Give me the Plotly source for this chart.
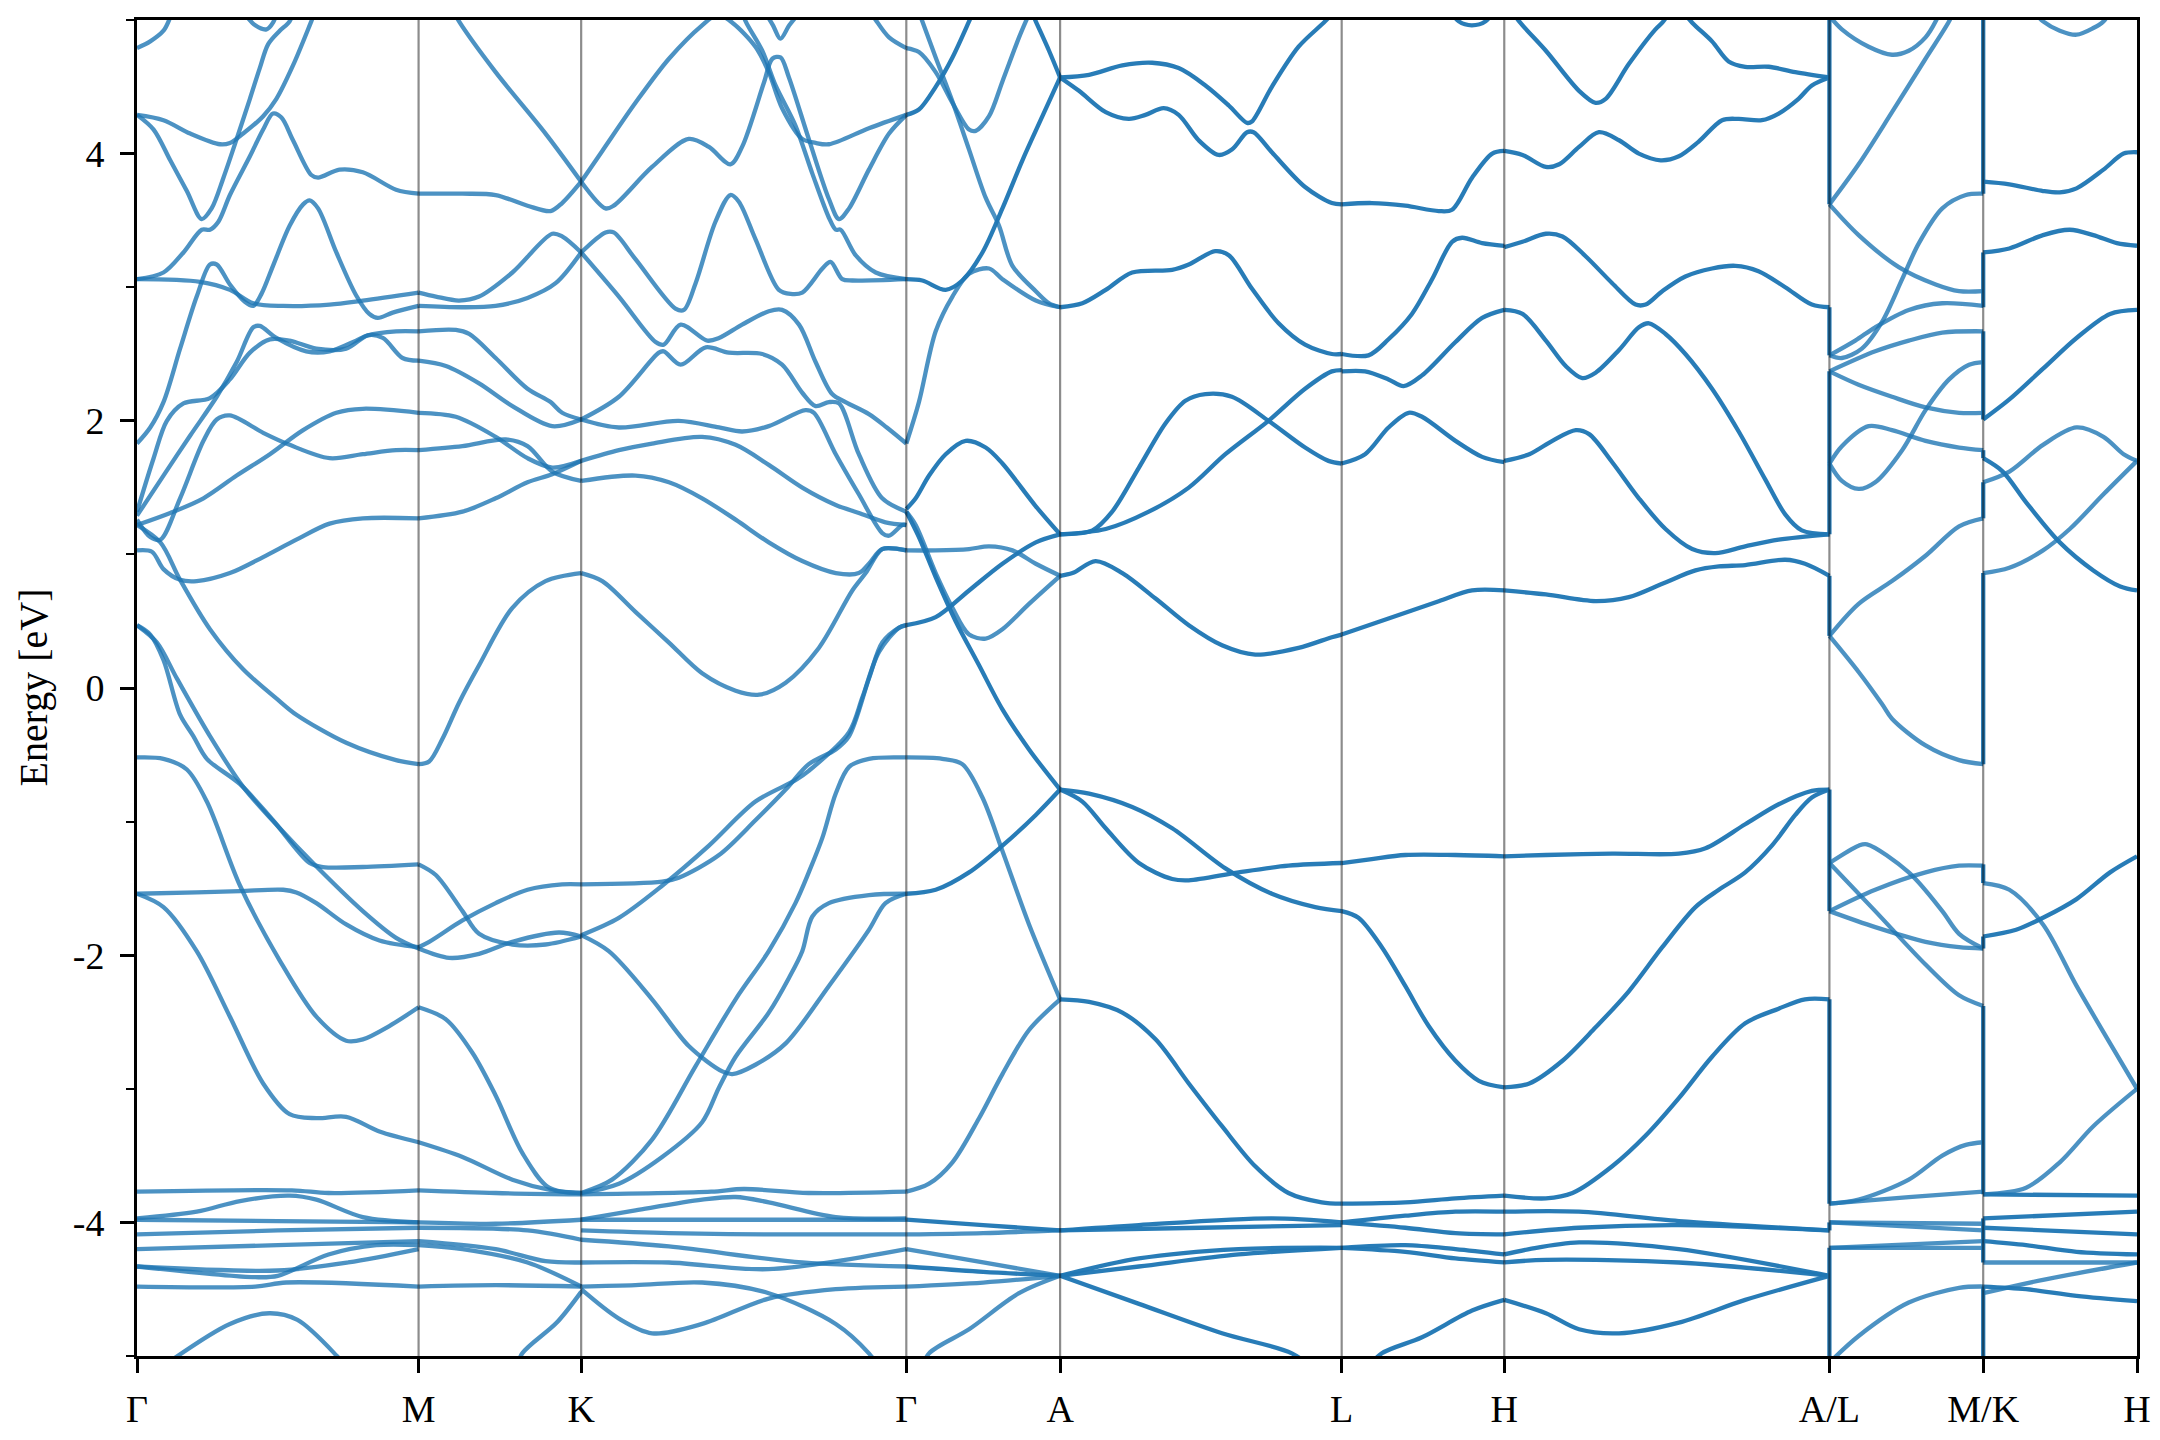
import plotly.graph_objects as go

tick_labels = ["Γ", "M", "K", "Γ", "A", "L", "H", "A/L", "M/K", "H"]
tick_pos = [0.0, 0.866, 1.366, 2.366, 2.839, 3.705, 4.205, 5.205, 5.678, 6.151]

# ---- band curves per path segment: [fraction along segment, energy (eV)] ----
GM_single = [
 [[0,4.79],[.047,4.84],[.094,4.92],[.112,4.99],[.13,5.1]],
 [[0,4.29],[.094,4.25],[.189,4.15],[.295,4.07],[.33,4.08],[.377,4.15],[.448,4.28],[.495,4.41],[.554,4.66],[.619,4.99],[.64,5.1]],
 [[0,4.29],[.059,4.18],[.118,3.95],[.177,3.72],[.23,3.51],[.265,3.59],[.307,3.82],[.354,4.11],[.401,4.41],[.436,4.64],[.466,4.82],[.507,4.92],[.542,4.99],[.56,5.1]],
 [[0,3.06],[.094,3.11],[.165,3.26],[.23,3.43],[.259,3.43],[.289,3.49],[.33,3.69],[.401,3.98],[.448,4.18],[.483,4.30],[.513,4.27],[.554,4.10],[.619,3.84],[.643,3.82],[.719,3.88],[.802,3.86],[.92,3.73],[1,3.70]],
 [[0,3.06],[.224,3.04],[.33,2.98],[.413,2.88],[.519,2.86],[.684,2.87],[.802,2.90],[1,2.96]],
 [[0,1.83],[.047,1.95],[.094,2.14],[.153,2.54],[.212,2.93],[.259,3.17],[.283,3.17],[.33,3.02],[.383,2.89],[.413,2.86],[.442,2.95],[.483,3.16],[.542,3.46],[.59,3.62],[.613,3.65],[.643,3.59],[.708,3.26],[.778,2.94],[.825,2.80],[.855,2.77],[.908,2.81],[1,2.86]],
 [[0,1.32],[.059,1.72],[.106,2.00],[.165,2.13],[.259,2.17],[.33,2.31],[.401,2.51],[.472,2.61],[.542,2.60],[.637,2.54],[.743,2.54],[.82,2.64],[.873,2.62],[.943,2.47],[1,2.45]],
 [[0,1.29],[.094,1.59],[.189,1.89],[.283,2.18],[.354,2.44],[.413,2.70],[.436,2.71],[.495,2.62],[.601,2.52],[.684,2.52],[.778,2.60],[.82,2.64],[.92,2.67],[1,2.67]],
 [[0,1.26],[.047,1.13],[.083,1.11],[.153,1.42],[.236,1.85],[.283,2.01],[.33,2.04],[.448,1.91],[.542,1.82],[.684,1.72],[.802,1.75],[.92,1.78],[1,1.78]],
 [[0,1.22],[.118,1.31],[.236,1.42],[.354,1.59],[.472,1.75],[.59,1.93],[.708,2.06],[.802,2.09],[1,2.06]],
 [[0,1.03],[.053,1.02],[.094,0.89],[.153,0.81],[.212,0.80],[.33,0.86],[.448,0.98],[.566,1.11],[.684,1.23],[.802,1.27],[1,1.27]],
 [[0,1.22],[.083,1.09],[.153,0.81],[.259,0.44],[.377,0.14],[.507,-0.10],[.566,-0.20],[.743,-0.41],[.92,-0.54],[1,-0.57]],
 [[0,0.47],[.047,0.40],[.094,0.21],[.153,-0.20],[.20,-0.36],[.248,-0.53],[.366,-0.72],[.483,-0.99],[.613,-1.31],[.66,-1.34],[.802,-1.34],[1,-1.32]],
 [[0,0.47],[.071,0.34],[.142,0.07],[.259,-0.36],[.377,-0.74],[.507,-1.05],[.625,-1.31],[.802,-1.67],[.92,-1.87],[1,-1.95]],
 [[0,-0.52],[.094,-0.53],[.177,-0.61],[.248,-0.85],[.366,-1.48],[.507,-2.04],[.637,-2.46],[.743,-2.64],[.802,-2.63],[.896,-2.53],[1,-2.39]],
 [[0,-1.54],[.212,-1.53],[.366,-1.52],[.519,-1.51],[.566,-1.53],[.637,-1.61],[.743,-1.77],[.861,-1.89],[1,-1.94]],
 [[0,-1.54],[.094,-1.64],[.212,-1.97],[.33,-2.46],[.448,-2.96],[.542,-3.19],[.637,-3.22],[.743,-3.21],[.861,-3.32],[1,-3.40]],
 [[0,-3.77],[.55,-3.76],[.68,-3.78],[1,-3.76]],
 [[0,-3.97],[.212,-3.92],[.366,-3.84],[.542,-3.80],[.637,-3.83],[.802,-3.96],[1,-4.0]],
 [[0,-3.98],[.5,-3.99],[1,-4.0]],
 [[0,-4.09],[.5,-4.06],[1,-4.04]],
 [[0,-4.20],[.5,-4.17],[1,-4.14]],
 [[0,-4.33],[.42,-4.41],[.5,-4.40],[.68,-4.24],[.85,-4.17],[1,-4.17]],
 [[0,-4.33],[.5,-4.36],[.75,-4.30],[1,-4.20]],
 [[0,-4.48],[.42,-4.48],[.53,-4.45],[1,-4.48]],
 [[.11,-5.05],[.33,-4.76],[.47,-4.68],[.57,-4.73],[.71,-5.0],[.75,-5.1]],
 [[.37,5.08],[.42,4.96],[.46,4.93],[.483,4.98],[.5,5.08]],
]

MK_single = [
 [[.2,5.1],[.249,4.99],[.474,4.61],[.781,4.15],[1,3.79]],
 [[0,3.70],[.27,3.70],[.474,3.69],[.67,3.61],[.812,3.57],[.883,3.63],[1,3.79]],
 [[0,2.96],[.106,2.93],[.249,2.90],[.372,2.93],[.577,3.11],[.822,3.40],[.883,3.38],[1,3.26]],
 [[0,2.86],[.27,2.85],[.474,2.86],[.67,2.92],[.843,3.03],[1,3.26]],
 [[0,2.67],[.229,2.68],[.311,2.65],[.474,2.47],[.67,2.24],[.812,2.14],[.883,2.06],[1,2.01]],
 [[0,2.45],[.168,2.41],[.372,2.28],[.577,2.11],[.822,1.96],[1,2.01]],
 [[0,2.06],[.229,2.03],[.474,1.88],[.67,1.72],[.822,1.65],[1,1.70]],
 [[0,1.78],[.27,1.81],[.536,1.86],[.67,1.81],[.822,1.62],[1,1.55]],
 [[0,1.27],[.27,1.32],[.474,1.42],[.67,1.54],[.822,1.60],[1,1.70]],
 [[0,-0.57],[.065,-0.55],[.147,-0.38],[.249,-0.11],[.372,0.17],[.577,0.60],[.781,0.80],[1,0.86]],
 [[0,-1.32],[.106,-1.40],[.27,-1.67],[.372,-1.84],[.577,-1.92],[.781,-1.92],[1,-1.86]],
 [[0,-1.94],[.065,-1.90],[.27,-1.74],[.474,-1.61],[.67,-1.51],[.883,-1.47],[1,-1.47]],
 [[0,-1.95],[.188,-2.02],[.372,-1.99],[.577,-1.90],[.863,-1.83],[1,-1.86]],
 [[0,-2.39],[.168,-2.48],[.331,-2.73],[.474,-3.05],[.638,-3.48],[.802,-3.74],[1,-3.78]],
 [[0,-3.40],[.27,-3.51],[.577,-3.68],[.822,-3.76],[1,-3.78]],
 [[0,-3.76],[.474,-3.78],[1,-3.79]],
 [[0,-4.0],[.474,-4.01],[1,-3.98]],
 [[0,-4.04],[.67,-4.06],[1,-4.13]],
 [[0,-4.14],[.474,-4.20],[.781,-4.29],[1,-4.30]],
 [[0,-4.17],[.27,-4.20],[.67,-4.30],[1,-4.48]],
 [[0,-4.48],[.474,-4.47],[1,-4.48]],
 [[.6,-5.1],[.638,-4.98],[.85,-4.75],[1,-4.52]],
]

KG_single = [
 [[0,3.79],[.065,4.02],[.167,4.38],[.27,4.71],[.372,4.96],[.42,5.04],[.465,4.98],[.536,4.80],[.577,4.61],[.618,4.34],[.68,4.11],[.721,4.08],[.762,4.07],[.885,4.19],[1,4.29]],
 [[.49,5.1],[.506,4.99],[.557,4.77],[.598,4.51],[.659,4.21],[.711,3.85],[.762,3.52],[.783,3.43],[.798,3.43],[.844,3.24],[.906,3.11],[1,3.06]],
 [[0,3.79],[.075,3.59],[.10,3.61],[.218,3.90],[.331,4.11],[.393,4.05],[.459,3.92],[.495,4.05],[.562,4.53],[.588,4.71],[.613,4.72],[.639,4.57],[.70,4.11],[.762,3.66],[.793,3.51],[.824,3.59],[.885,3.88],[.947,4.15],[1,4.29]],
 [[0,3.26],[.075,3.41],[.10,3.41],[.167,3.21],[.29,2.84],[.316,2.83],[.352,3.03],[.413,3.49],[.459,3.69],[.485,3.64],[.536,3.36],[.608,2.98],[.644,2.95],[.68,2.96],[.742,3.14],[.767,3.19],[.803,3.06],[.834,3.05],[1,3.06]],
 [[0,3.26],[.116,2.93],[.229,2.59],[.254,2.57],[.306,2.72],[.388,2.60],[.424,2.62],[.495,2.72],[.577,2.82],[.618,2.83],[.67,2.72],[.721,2.44],[.772,2.20],[.813,2.14],[.885,2.05],[.94,1.95],[1,1.83]],
 [[0,2.01],[.116,2.18],[.239,2.51],[.254,2.52],[.306,2.42],[.383,2.55],[.454,2.51],[.557,2.50],[.618,2.42],[.68,2.21],[.721,2.11],[.762,2.14],[.793,2.13],[.854,1.75],[.926,1.42],[1,1.32]],
 [[0,2.01],[.116,1.95],[.30,2.00],[.424,1.95],[.495,1.92],[.577,1.96],[.69,2.08],[.716,2.06],[.783,1.75],[.854,1.45],[.926,1.16],[.947,1.14],[.988,1.22],[1,1.22]],
 [[0,1.70],[.116,1.78],[.218,1.83],[.372,1.88],[.475,1.82],[.577,1.67],[.68,1.50],[.783,1.37],[.854,1.31],[.936,1.24],[1,1.22]],
 [[0,1.55],[.167,1.59],[.27,1.54],[.372,1.42],[.475,1.26],[.577,1.09],[.68,0.95],[.783,0.86],[.854,0.86],[.885,0.93],[.926,1.04],[1,1.03]],
 [[0,0.86],[.065,0.80],[.167,0.57],[.27,0.34],[.372,0.11],[.475,-0.02],[.547,-0.05],[.629,0.04],[.731,0.30],[.834,0.73],[.875,0.86],[.926,1.04],[.977,1.04],[1,1.03]],
 [[0,-1.47],[.249,-1.45],[.30,-1.42],[.424,-1.25],[.536,-0.99],[.629,-0.76],[.70,-0.57],[.783,-0.46],[.824,-0.36],[.885,0.07],[.926,0.34],[.977,0.45],[1,0.47]],
 [[0,-1.85],[.116,-1.72],[.249,-1.48],[.393,-1.18],[.536,-0.85],[.659,-0.69],[.70,-0.62],[.824,-0.33],[.865,-0.07],[.916,0.27],[.977,0.45],[1,0.47]],
 [[0,-1.85],[.085,-1.97],[.218,-2.33],[.331,-2.68],[.434,-2.87],[.465,-2.89],[.536,-2.82],[.629,-2.66],[.762,-2.23],[.885,-1.81],[.936,-1.61],[1,-1.54]],
 [[0,-3.78],[.095,-3.68],[.218,-3.38],[.352,-2.83],[.475,-2.33],[.577,-1.97],[.659,-1.61],[.70,-1.38],[.742,-1.12],[.783,-0.79],[.824,-0.59],[.885,-0.53],[1,-0.52]],
 [[0,-3.78],[.116,-3.71],[.249,-3.51],[.372,-3.25],[.424,-2.99],[.475,-2.76],[.577,-2.43],[.639,-2.17],[.68,-1.97],[.711,-1.71],[.762,-1.61],[.885,-1.55],[1,-1.54]],
 [[0,-3.79],[.4,-3.77],[.5,-3.75],[.7,-3.78],[1,-3.77]],
 [[0,-3.98],[.167,-3.91],[.372,-3.83],[.475,-3.81],[.577,-3.85],[.783,-3.96],[1,-3.97]],
 [[0,-3.98],[.5,-3.98],[1,-3.98]],
 [[0,-4.06],[.27,-4.08],[.577,-4.09],[1,-4.09]],
 [[0,-4.13],[.27,-4.18],[.68,-4.30],[1,-4.33]],
 [[0,-4.30],[.27,-4.30],[.577,-4.35],[1,-4.20]],
 [[0,-4.50],[.116,-4.72],[.218,-4.83],[.372,-4.76],[.577,-4.57],[.783,-4.50],[1,-4.48]],
 [[0,-4.48],[.167,-4.47],[.372,-4.45],[.577,-4.53],[.783,-4.76],[.885,-4.98],[.92,-5.1]],
 [[.88,5.1],[.906,5.0],[.947,4.87],[1,4.79]],
 [[.56,5.08],[.59,4.96],[.613,4.86],[.64,4.96],[.68,5.08]],
]

GA_single = [
 [[0,4.79],[.082,4.76],[.191,4.61],[.30,4.38],[.408,4.18],[.451,4.17],[.538,4.28],[.625,4.54],[.733,4.87],[.777,4.99],[.82,5.1]],
 [[.07,5.1],[.104,4.99],[.191,4.72],[.30,4.39],[.408,4.03],[.516,3.67],[.603,3.46],[.69,3.16],[.842,2.97],[.928,2.88],[1,2.85]],
 [[0,1.83],[.082,2.14],[.191,2.67],[.30,2.93],[.408,3.10],[.538,3.14],[.625,3.06],[.842,2.90],[1,2.85]],
 [[0,1.32],[.061,1.22],[.191,0.86],[.30,0.60],[.408,0.40],[.516,0.37],[.625,0.44],[.798,0.63],[1,0.84]],
 [[0,1.03],[.191,1.03],[.408,1.04],[.538,1.06],[.69,1.03],[.842,0.93],[1,0.84]],
 [[0,-0.52],[.234,-0.53],[.364,-0.57],[.495,-0.82],[.625,-1.22],[.798,-1.77],[1,-2.33]],
 [[0,-3.77],[.148,-3.71],[.30,-3.55],[.473,-3.22],[.625,-2.89],[.798,-2.56],[1,-2.33]],
 [[0,-4.09],[.5,-4.08],[1,-4.06]],
 [[0,-4.20],[.5,-4.30],[1,-4.40]],
 [[0,-4.48],[.5,-4.45],[1,-4.40]],
 [[.10,-5.1],[.148,-4.98],[.408,-4.80],[.733,-4.53],[1,-4.40]],
]
GA_double = [
 [[0,4.29],[.082,4.33],[.191,4.50],[.30,4.72],[.408,4.99],[.45,5.1]],
 [[0,3.06],[.104,3.05],[.256,2.98],[.364,3.05],[.495,3.26],[.625,3.59],[.755,3.95],[.885,4.28],[1,4.57]],
 [[.80,5.1],[.842,4.99],[.928,4.77],[1,4.57]],
 [[0,1.32],[.082,1.13],[.191,0.83],[.321,0.50],[.473,0.17],[.625,-0.16],[.798,-0.46],[1,-0.76]],
 [[0,0.47],[.191,0.53],[.408,0.73],[.625,0.93],[.842,1.09],[1,1.15]],
 [[0,1.34],[.061,1.42],[.148,1.59],[.256,1.75],[.386,1.85],[.516,1.80],[.625,1.68],[.842,1.36],[1,1.15]],
 [[0,-1.54],[.191,-1.51],[.408,-1.38],[.625,-1.18],[.842,-0.95],[1,-0.76]],
 [[0,-3.98],[.5,-4.02],[1,-4.06]],
 [[0,-4.33],[.5,-4.37],[1,-4.40]],
]

AL_double = [
 [[0,4.57],[.103,4.59],[.221,4.66],[.327,4.68],[.421,4.64],[.516,4.51],[.599,4.36],[.664,4.23],[.681,4.24],[.752,4.50],[.847,4.80],[.941,4.99],[.98,5.08]],
 [[0,4.57],[.067,4.47],[.162,4.31],[.244,4.26],[.303,4.29],[.368,4.34],[.421,4.29],[.492,4.10],[.563,3.99],[.61,4.03],[.664,4.16],[.687,4.16],[.752,4.01],[.87,3.75],[.965,3.63],[1,3.62]],
 [[0,2.85],[.079,2.88],[.162,2.98],[.256,3.11],[.398,3.13],[.457,3.17],[.551,3.27],[.599,3.24],[.681,2.99],[.776,2.73],[.87,2.57],[.965,2.50],[1,2.50]],
 [[0,1.15],[.115,1.18],[.185,1.32],[.28,1.65],[.374,1.98],[.445,2.15],[.516,2.20],[.61,2.18],[.74,2.00],[.87,1.80],[.953,1.70],[1,1.68]],
 [[0,1.15],[.162,1.19],[.315,1.32],[.457,1.50],[.587,1.75],[.74,2.00],[.87,2.24],[.965,2.37],[1,2.38]],
 [[0,0.84],[.044,0.86],[.126,0.95],[.221,0.86],[.339,0.67],[.457,0.47],[.575,0.32],[.693,0.25],[.847,0.30],[.965,0.38],[1,0.40]],
 [[0,-0.76],[.103,-0.79],[.256,-0.89],[.398,-1.05],[.587,-1.35],[.752,-1.54],[.906,-1.64],[1,-1.67]],
 [[0,-0.76],[.079,-0.85],[.162,-1.05],[.28,-1.31],[.398,-1.43],[.457,-1.44],[.634,-1.38],[.811,-1.33],[1,-1.31]],
 [[0,-2.33],[.103,-2.35],[.221,-2.43],[.339,-2.63],[.457,-2.96],[.575,-3.28],[.693,-3.58],[.811,-3.78],[.929,-3.85],[1,-3.86]],
 [[0,-4.06],[.28,-4.02],[.752,-3.97],[1,-4.0]],
 [[0,-4.06],[.5,-4.04],[1,-4.02]],
 [[0,-4.40],[.28,-4.27],[.634,-4.20],[1,-4.19]],
 [[0,-4.40],[.28,-4.33],[.634,-4.24],[1,-4.19]],
 [[0,-4.40],[.28,-4.61],[.575,-4.83],[.823,-4.98],[.9,-5.1]],
]

LH_double = [
 [[0,3.62],[.185,3.63],[.391,3.61],[.597,3.57],[.679,3.58],[.802,3.82],[.926,4.00],[1,4.02]],
 [[0,2.50],[.165,2.49],[.288,2.61],[.432,2.80],[.556,3.06],[.679,3.34],[.741,3.37],[.864,3.33],[1,3.31]],
 [[0,2.37],[.144,2.37],[.288,2.31],[.381,2.26],[.494,2.34],[.70,2.59],[.864,2.77],[1,2.83]],
 [[0,1.68],[.144,1.75],[.288,1.95],[.412,2.06],[.494,2.03],[.70,1.85],[.864,1.73],[1,1.69]],
 [[0,0.40],[.288,0.52],[.597,0.65],[.802,0.73],[1,0.73]],
 [[0,-1.31],[.185,-1.28],[.391,-1.25],[.70,-1.25],[1,-1.26]],
 [[0,-1.67],[.103,-1.72],[.247,-1.94],[.391,-2.23],[.535,-2.53],[.70,-2.79],[.844,-2.94],[1,-2.99]],
 [[0,-3.86],[.391,-3.85],[.70,-3.82],[1,-3.80]],
 [[0,-4.0],[.391,-3.95],[.70,-3.92],[1,-3.92]],
 [[0,-4.0],[.391,-4.04],[.70,-4.08],[1,-4.09]],
 [[0,-4.19],[.391,-4.17],[.70,-4.20],[1,-4.24]],
 [[0,-4.19],[.391,-4.22],[.70,-4.27],[1,-4.30]],
 [[.15,-5.1],[.247,-4.98],[.494,-4.86],[.802,-4.66],[1,-4.58]],
 [[.65,5.1],[.72,4.99],[.80,4.96],[.885,4.99],[.95,5.1]],
]

HA_double = [
 [[0,5.15],[.046,4.99],[.128,4.77],[.23,4.47],[.281,4.38],[.312,4.41],[.383,4.67],[.465,4.93],[.486,4.98],[.52,5.1]],
 [[.537,5.1],[.578,4.98],[.639,4.84],[.69,4.69],[.741,4.65],[.813,4.65],[.895,4.61],[1,4.57]],
 [[0,4.02],[.056,3.99],[.128,3.90],[.169,3.92],[.23,4.05],[.291,4.16],[.353,4.10],[.414,4.00],[.481,3.95],[.537,3.98],[.598,4.09],[.67,4.25],[.721,4.26],[.792,4.25],[.844,4.30],[.905,4.41],[.946,4.51],[1,4.57]],
 [[0,3.30],[.056,3.34],[.128,3.40],[.179,3.38],[.251,3.23],[.332,3.03],[.404,2.87],[.435,2.87],[.486,2.97],[.557,3.08],[.639,3.14],[.711,3.16],[.782,3.12],[.864,3.00],[.946,2.87],[1,2.85]],
 [[0,2.83],[.056,2.80],[.128,2.60],[.189,2.41],[.24,2.32],[.281,2.36],[.353,2.53],[.414,2.70],[.445,2.73],[.496,2.65],[.557,2.50],[.639,2.24],[.721,1.92],[.803,1.56],[.864,1.30],[.915,1.18],[1,1.15]],
 [[0,1.70],[.077,1.75],[.148,1.85],[.22,1.93],[.261,1.90],[.332,1.69],[.414,1.42],[.496,1.19],[.578,1.04],[.649,1.01],[.741,1.06],[.844,1.11],[1,1.15]],
 [[0,0.73],[.128,0.70],[.281,0.65],[.383,0.68],[.486,0.78],[.588,0.88],[.66,0.91],[.741,0.92],[.864,0.96],[.925,0.93],[1,0.84]],
 [[0,-1.26],[.128,-1.25],[.332,-1.24],[.537,-1.24],[.619,-1.20],[.741,-1.02],[.844,-0.87],[.946,-0.77],[1,-0.76]],
 [[0,-2.99],[.077,-2.96],[.179,-2.79],[.281,-2.54],[.383,-2.27],[.486,-1.94],[.588,-1.64],[.66,-1.51],[.741,-1.38],[.823,-1.18],[.895,-0.95],[.946,-0.82],[1,-0.76]],
 [[0,-3.80],[.128,-3.82],[.21,-3.78],[.332,-3.58],[.435,-3.35],[.537,-3.07],[.639,-2.76],[.741,-2.51],[.844,-2.40],[.925,-2.33],[1,-2.33]],
 [[0,-3.92],[.23,-3.92],[.537,-3.99],[1,-4.06]],
 [[0,-4.09],[.23,-4.04],[.537,-4.02],[1,-4.06]],
 [[0,-4.24],[.077,-4.20],[.23,-4.15],[.537,-4.20],[1,-4.40]],
 [[0,-4.30],[.128,-4.28],[.537,-4.30],[1,-4.40]],
 [[0,-4.58],[.128,-4.68],[.23,-4.80],[.353,-4.83],[.537,-4.75],[.741,-4.58],[1,-4.40]],
]

LM_single = [
 [[0,5.03],[.081,4.93],[.255,4.80],[.407,4.74],[.516,4.77],[.625,4.87],[.691,4.99],[.73,5.1]],
 [[0,3.62],[.19,3.92],[.407,4.31],[.625,4.71],[.778,4.99],[.82,5.1]],
 [[0,3.62],[.19,3.39],[.451,3.15],[.691,3.02],[.843,2.97],[1,2.97]],
 [[0,2.49],[.081,2.47],[.211,2.54],[.342,2.74],[.473,3.06],[.582,3.33],[.734,3.59],[.887,3.69],[1,3.70]],
 [[0,2.49],[.168,2.60],[.298,2.70],[.516,2.83],[.734,2.88],[1,2.86]],
 [[0,2.37],[.298,2.52],[.516,2.60],[.734,2.66],[1,2.67]],
 [[0,2.37],[.19,2.27],[.407,2.18],[.625,2.10],[.843,2.06],[1,2.06]],
 [[0,1.68],[.081,1.81],[.255,1.96],[.407,1.93],[.625,1.85],[.843,1.80],[1,1.78]],
 [[0,1.68],[.081,1.55],[.19,1.49],[.298,1.54],[.473,1.78],[.625,2.08],[.778,2.31],[.908,2.42],[1,2.44]],
 [[0,0.39],[.19,0.63],[.407,0.80],[.625,0.99],[.843,1.21],[1,1.27]],
 [[0,0.39],[.19,0.12],[.342,-0.12],[.407,-0.23],[.625,-0.43],[.843,-0.54],[1,-0.57]],
 [[0,-1.31],[.19,-1.18],[.244,-1.17],[.516,-1.38],[.734,-1.67],[.843,-1.84],[1,-1.95]],
 [[0,-1.31],[.298,-1.67],[.625,-2.07],[.843,-2.30],[1,-2.38]],
 [[0,-1.67],[.298,-1.51],[.625,-1.38],[.843,-1.33],[1,-1.33]],
 [[0,-1.67],[.298,-1.79],[.625,-1.90],[.843,-1.94],[1,-1.95]],
 [[0,-3.86],[.19,-3.83],[.516,-3.68],[.734,-3.50],[.887,-3.42],[1,-3.40]],
 [[0,-3.86],[.516,-3.81],[1,-3.77]],
 [[0,-4.0],[1,-4.01]],
 [[0,-4.0],[1,-4.06]],
 [[0,-4.19],[1,-4.14]],
 [[0,-4.19],[1,-4.19]],
 [[0,-5.05],[.19,-4.85],[.516,-4.60],[.843,-4.49],[1,-4.48]],
]

KH_single = [
 [[.30,5.1],[.389,4.99],[.498,4.92],[.607,4.89],[.716,4.94],[.782,4.99],[.85,5.1]],
 [[0,1.54],[.17,1.62],[.389,1.82],[.607,1.95],[.782,1.88],[.913,1.75],[1,1.70]],
 [[0,0.86],[.17,0.90],[.389,1.03],[.563,1.19],[.782,1.45],[1,1.70]],
 [[0,-1.46],[.17,-1.51],[.389,-1.77],[.607,-2.23],[.825,-2.66],[1,-3.0]],
 [[0,-3.79],[.279,-3.74],[.498,-3.55],[.716,-3.28],[1,-3.0]],
 [[0,-4.30],[1,-4.30]],
 [[0,-4.53],[.389,-4.43],[1,-4.30]],
]
KH_double = [
 [[0,3.79],[.17,3.77],[.389,3.72],[.498,3.71],[.607,3.74],[.782,3.88],[.913,4.00],[1,4.01]],
 [[0,3.26],[.17,3.29],[.389,3.39],[.563,3.43],[.716,3.39],[.869,3.33],[1,3.31]],
 [[0,2.01],[.17,2.16],[.389,2.39],[.607,2.62],[.825,2.80],[1,2.83]],
 [[0,1.72],[.127,1.62],[.279,1.39],[.498,1.09],[.716,0.88],[.891,0.76],[1,0.73]],
 [[0,-1.86],[.214,-1.81],[.389,-1.72],[.607,-1.58],[.825,-1.38],[1,-1.26]],
 [[0,-3.79],[1,-3.80]],
 [[0,-3.97],[1,-3.92]],
 [[0,-4.04],[1,-4.09]],
 [[0,-4.14],[.279,-4.17],[.607,-4.22],[1,-4.24]],
 [[0,-4.48],[.279,-4.50],[.607,-4.55],[1,-4.59]],
]

# energy jumps drawn at the discontinuous path points (A|L and M|K)
jump_AL = [[5.2, 3.62], [2.85, 2.49], [2.37, 1.15], [0.84, 0.39], [-0.76, -1.67],
           [-2.33, -3.86], [-4.0, -4.06], [-4.19, -5.2]]
jump_MK = [[5.2, 3.70], [2.85, 3.26], [2.67, 2.01], [1.78, 1.72], [1.27, 1.54],
           [0.86, -0.57], [-1.32, -1.46], [-1.86, -1.95], [-2.38, -3.79],
           [-3.97, -4.30], [-4.48, -5.2]]

# (segment start tick index, single curves, doubly-degenerate curves)
segments = [
    (0, GM_single, []),
    (1, MK_single, []),
    (2, KG_single, []),
    (3, GA_single, GA_double),
    (4, [], AL_double),
    (5, [], LH_double),
    (6, [], HA_double),
    (7, LM_single, []),
    (8, KH_single, KH_double),
]

C_SINGLE = "rgba(31,119,180,0.80)"
C_DOUBLE = "rgba(31,119,180,0.96)"
LW = 4.3

def collect(curves, i0):
    x0, x1 = tick_pos[i0], tick_pos[i0 + 1]
    xs, ys = [], []
    for c in curves:
        for t, e in c:
            xs.append(x0 + t * (x1 - x0))
            ys.append(e)
        xs.append(None)
        ys.append(None)
    return xs, ys

fig = go.Figure()
for kind, color in (("single", C_SINGLE), ("double", C_DOUBLE)):
    for i0, singles, doubles in segments:
        curves = singles if kind == "single" else doubles
        if not curves:
            continue
        xs, ys = collect(curves, i0)
        fig.add_trace(go.Scatter(x=xs, y=ys, mode="lines",
                                 line=dict(color=color, width=LW, shape="spline", smoothing=0.9),
                                 hoverinfo="skip", showlegend=False))

for pos, jumps in ((tick_pos[7], jump_AL), (tick_pos[8], jump_MK)):
    xs, ys = [], []
    for a, b in jumps:
        xs += [pos, pos, None]
        ys += [a, b, None]
    fig.add_trace(go.Scatter(x=xs, y=ys, mode="lines",
                             line=dict(color=C_DOUBLE, width=LW),
                             hoverinfo="skip", showlegend=False))

for p in tick_pos[1:-1]:
    fig.add_shape(type="line", xref="x", yref="paper", x0=p, x1=p, y0=0, y1=1,
                  line=dict(color="rgba(0,0,0,0.45)", width=2.2), layer="above")

font = "Liberation Serif, Times New Roman, serif"
# page body has an 8 px default margin; size the figure so the plot box lands
# where the reference has it
W, H = 2144, 1424
ML, MR, MT, MB = 128.5, 15.3, 12, 76
fig.update_layout(
    width=W, height=H,
    margin=dict(l=ML, r=MR, t=MT, b=MB, autoexpand=False),
    paper_bgcolor="white", plot_bgcolor="white",
    font=dict(family=font, size=38, color="black"),
    xaxis=dict(range=[tick_pos[0], tick_pos[-1]], tickmode="array",
               tickvals=tick_pos, ticktext=tick_labels, automargin=False,
               ticks="outside", ticklen=14, tickwidth=2.5, tickcolor="black",
               ticklabelstandoff=3,
               showline=True, linewidth=3, linecolor="black", mirror=True,
               showgrid=False, zeroline=False,
               tickfont=dict(family=font, size=38)),
    yaxis=dict(range=[-5, 5], tickmode="array", tickvals=[-4, -2, 0, 2, 4],
               ticktext=["-4", "-2", "0", "2", "4"], automargin=False,
               ticks="outside", ticklen=14, tickwidth=2.5, tickcolor="black",
               ticklabelstandoff=8,
               minor=dict(tickvals=[-5, -3, -1, 1, 3, 5], ticks="outside", ticklen=8,
                          tickwidth=2, tickcolor="black", showgrid=False),
               showline=True, linewidth=3, linecolor="black", mirror=True,
               showgrid=False, zeroline=False,
               tickfont=dict(family=font, size=38)),
    annotations=[dict(text="Energy [eV]", textangle=-90, showarrow=False,
                      xref="paper", yref="paper", x=-(ML - 24) / (W - ML - MR), y=0.5,
                      xanchor="center", yanchor="middle", borderpad=0,
                      font=dict(family=font, size=40, color="black"))],
)

fig.write_html("out.html")
